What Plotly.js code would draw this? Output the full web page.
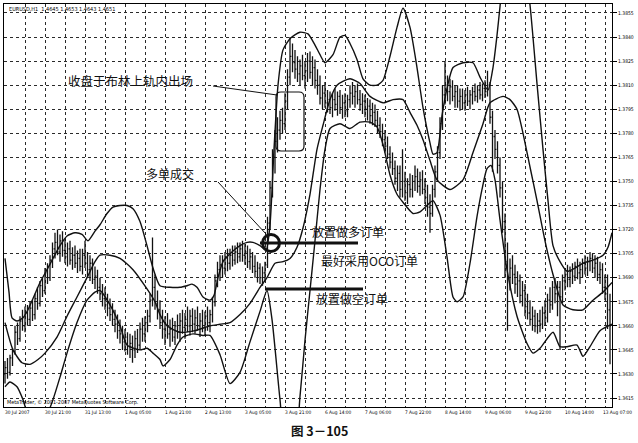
<!DOCTYPE html>
<html><head><meta charset="utf-8">
<script src="https://cdn.plot.ly/plotly-3.0.1.min.js"></script>
<style>html,body{margin:0;padding:0;background:#fff}#chart{width:638px;height:443px}</style>
</head><body><div id="chart"></div>
<script>
// ---- hourly EURUSD bars (open / high / low / close) ----
const opens = [
1.3630,1.3634,1.3631,1.3640,1.3644,1.3656,1.3652,1.3663,1.3660,1.3668,
1.3664,1.3671,1.3667,1.3677,1.3674,1.3685,1.3682,1.3693,1.3690,1.3701,
1.3708,1.3712,1.3706,1.3713,1.3707,1.3703,1.3708,1.3701,1.3704,1.3699,
1.3702,1.3697,1.3704,1.3699,1.3695,1.3699,1.3689,1.3691,1.3684,1.3680,
1.3677,1.3673,1.3671,1.3667,1.3664,1.3661,1.3657,1.3655,1.3650,1.3653,
1.3647,1.3649,1.3645,1.3652,1.3648,1.3658,1.3655,1.3662,1.3666,1.3676,
1.3684,1.3674,1.3670,1.3662,1.3658,1.3661,1.3655,1.3658,1.3653,1.3660,
1.3656,1.3663,1.3659,1.3664,1.3660,1.3666,1.3661,1.3665,1.3660,1.3663,
1.3659,1.3666,1.3662,1.3667,1.3675,1.3688,1.3695,1.3698,1.3696,1.3702,
1.3699,1.3704,1.3701,1.3706,1.3703,1.3708,1.3704,1.3706,1.3700,1.3703,
1.3697,1.3694,1.3696,1.3690,1.3693,1.3698,1.3724,1.3746,1.3765,1.3775,
1.3782,1.3788,1.3786,1.3800,1.3815,1.3828,1.3824,1.3820,1.3817,1.3822,
1.3816,1.3819,1.3825,1.3818,1.3821,1.3813,1.3810,1.3802,1.3805,1.3799,
1.3801,1.3796,1.3801,1.3798,1.3803,1.3796,1.3799,1.3794,1.3801,1.3805,
1.3803,1.3806,1.3801,1.3798,1.3800,1.3795,1.3797,1.3791,1.3793,1.3788,
1.3785,1.3781,1.3776,1.3772,1.3767,1.3762,1.3758,1.3752,1.3755,1.3745,
1.3750,1.3743,1.3748,1.3745,1.3750,1.3753,1.3747,1.3751,1.3745,1.3740,
1.3734,1.3730,1.3745,1.3756,1.3768,1.3786,1.3804,1.3810,1.3806,1.3809,
1.3803,1.3806,1.3800,1.3803,1.3799,1.3804,1.3800,1.3804,1.3806,1.3803,
1.3807,1.3804,1.3808,1.3806,1.3810,1.3790,1.3778,1.3770,1.3760,1.3746,
1.3725,1.3700,1.3690,1.3696,1.3692,1.3686,1.3688,1.3679,1.3682,1.3672,
1.3668,1.3664,1.3666,1.3660,1.3663,1.3661,1.3668,1.3665,1.3676,1.3673,
1.3684,1.3680,1.3684,1.3678,1.3688,1.3692,1.3689,1.3694,1.3691,1.3697,
1.3693,1.3695,1.3699,1.3696,1.3700,1.3702,1.3696,1.3699,1.3692,1.3695,
1.3684,1.3680,1.3670];
const highs = [
1.3638,1.3640,1.3642,1.3646,1.3660,1.3662,1.3666,1.3670,1.3672,1.3673,
1.3675,1.3676,1.3680,1.3684,1.3688,1.3690,1.3696,1.3699,1.3704,1.3712,
1.3718,1.3720,1.3717,1.3719,1.3714,1.3712,1.3713,1.3709,1.3710,1.3707,
1.3708,1.3708,1.3713,1.3706,1.3704,1.3702,1.3697,1.3695,1.3690,1.3686,
1.3684,1.3680,1.3677,1.3674,1.3670,1.3667,1.3664,1.3660,1.3658,1.3656,
1.3655,1.3654,1.3657,1.3658,1.3662,1.3665,1.3666,1.3670,1.3680,1.3715,
1.3692,1.3682,1.3676,1.3670,1.3666,1.3668,1.3664,1.3665,1.3663,1.3667,
1.3668,1.3670,1.3668,1.3672,1.3670,1.3671,1.3670,1.3672,1.3668,1.3670,
1.3669,1.3672,1.3670,1.3678,1.3692,1.3700,1.3704,1.3704,1.3706,1.3708,
1.3708,1.3710,1.3710,1.3712,1.3712,1.3713,1.3711,1.3710,1.3708,1.3706,
1.3704,1.3700,1.3699,1.3697,1.3700,1.3728,1.3750,1.3770,1.3782,1.3790,
1.3794,1.3796,1.3805,1.3820,1.3840,1.3836,1.3832,1.3828,1.3826,1.3829,
1.3825,1.3830,1.3831,1.3828,1.3826,1.3820,1.3816,1.3810,1.3812,1.3807,
1.3806,1.3805,1.3808,1.3806,1.3807,1.3804,1.3805,1.3804,1.3810,1.3812,
1.3810,1.3811,1.3807,1.3805,1.3804,1.3802,1.3801,1.3799,1.3798,1.3794,
1.3790,1.3786,1.3782,1.3778,1.3772,1.3768,1.3763,1.3760,1.3760,1.3770,
1.3756,1.3752,1.3755,1.3754,1.3760,1.3758,1.3756,1.3757,1.3752,1.3748,
1.3742,1.3748,1.3760,1.3772,1.3790,1.3810,1.3825,1.3816,1.3814,1.3813,
1.3810,1.3810,1.3808,1.3808,1.3807,1.3809,1.3807,1.3809,1.3811,1.3810,
1.3812,1.3811,1.3813,1.3819,1.3812,1.3794,1.3782,1.3775,1.3765,1.3750,
1.3730,1.3712,1.3702,1.3704,1.3698,1.3694,1.3692,1.3688,1.3686,1.3680,
1.3676,1.3672,1.3670,1.3668,1.3670,1.3672,1.3676,1.3680,1.3684,1.3688,
1.3690,1.3688,1.3688,1.3692,1.3696,1.3698,1.3697,1.3699,1.3700,1.3702,
1.3700,1.3702,1.3704,1.3703,1.3706,1.3705,1.3704,1.3703,1.3700,1.3699,
1.3692,1.3692,1.3680];
const lows = [
1.3624,1.3627,1.3629,1.3635,1.3642,1.3648,1.3650,1.3657,1.3656,1.3660,
1.3660,1.3663,1.3664,1.3670,1.3672,1.3678,1.3680,1.3686,1.3688,1.3696,
1.3702,1.3704,1.3700,1.3703,1.3699,1.3697,1.3698,1.3695,1.3696,1.3693,
1.3694,1.3692,1.3696,1.3690,1.3688,1.3686,1.3683,1.3680,1.3676,1.3672,
1.3670,1.3666,1.3663,1.3660,1.3656,1.3652,1.3649,1.3645,1.3644,1.3642,
1.3640,1.3637,1.3640,1.3643,1.3645,1.3650,1.3650,1.3656,1.3662,1.3672,
1.3670,1.3664,1.3658,1.3652,1.3648,1.3652,1.3647,1.3650,1.3648,1.3652,
1.3650,1.3655,1.3652,1.3656,1.3654,1.3656,1.3655,1.3657,1.3653,1.3656,
1.3654,1.3657,1.3656,1.3662,1.3672,1.3684,1.3688,1.3690,1.3692,1.3694,
1.3695,1.3697,1.3698,1.3699,1.3700,1.3700,1.3698,1.3696,1.3695,1.3693,
1.3690,1.3687,1.3686,1.3685,1.3688,1.3696,1.3720,1.3740,1.3755,1.3768,
1.3776,1.3780,1.3782,1.3795,1.3810,1.3818,1.3814,1.3812,1.3810,1.3813,
1.3808,1.3812,1.3814,1.3810,1.3808,1.3804,1.3798,1.3795,1.3796,1.3793,
1.3792,1.3790,1.3794,1.3791,1.3792,1.3789,1.3790,1.3790,1.3796,1.3798,
1.3796,1.3798,1.3794,1.3792,1.3790,1.3788,1.3786,1.3785,1.3784,1.3780,
1.3777,1.3772,1.3768,1.3764,1.3758,1.3754,1.3748,1.3744,1.3740,1.3740,
1.3738,1.3736,1.3740,1.3740,1.3744,1.3743,1.3741,1.3742,1.3736,1.3728,
1.3718,1.3728,1.3740,1.3750,1.3764,1.3782,1.3798,1.3800,1.3798,1.3800,
1.3796,1.3796,1.3794,1.3795,1.3794,1.3797,1.3795,1.3798,1.3800,1.3799,
1.3801,1.3800,1.3802,1.3803,1.3786,1.3756,1.3764,1.3755,1.3740,1.3718,
1.3690,1.3657,1.3682,1.3686,1.3680,1.3678,1.3674,1.3672,1.3666,1.3664,
1.3660,1.3657,1.3656,1.3655,1.3656,1.3658,1.3660,1.3662,1.3668,1.3670,
1.3674,1.3666,1.3645,1.3674,1.3682,1.3684,1.3684,1.3686,1.3688,1.3689,
1.3686,1.3690,1.3692,1.3691,1.3694,1.3693,1.3690,1.3688,1.3686,1.3680,
1.3676,1.3658,1.3636];
const closes = [
1.3634,1.3631,1.3640,1.3644,1.3656,1.3652,1.3663,1.3660,1.3668,1.3664,
1.3671,1.3667,1.3677,1.3674,1.3685,1.3682,1.3693,1.3690,1.3701,1.3708,
1.3712,1.3706,1.3713,1.3707,1.3703,1.3708,1.3701,1.3704,1.3699,1.3702,
1.3697,1.3704,1.3699,1.3695,1.3699,1.3689,1.3691,1.3684,1.3680,1.3677,
1.3673,1.3671,1.3667,1.3664,1.3661,1.3657,1.3655,1.3650,1.3653,1.3647,
1.3649,1.3645,1.3652,1.3648,1.3658,1.3655,1.3662,1.3666,1.3676,1.3684,
1.3674,1.3670,1.3662,1.3658,1.3661,1.3655,1.3658,1.3653,1.3660,1.3656,
1.3663,1.3659,1.3664,1.3660,1.3666,1.3661,1.3665,1.3660,1.3663,1.3659,
1.3666,1.3662,1.3667,1.3675,1.3688,1.3695,1.3698,1.3696,1.3702,1.3699,
1.3704,1.3701,1.3706,1.3703,1.3708,1.3704,1.3706,1.3700,1.3703,1.3697,
1.3694,1.3696,1.3690,1.3693,1.3698,1.3724,1.3746,1.3765,1.3775,1.3782,
1.3788,1.3786,1.3800,1.3815,1.3828,1.3824,1.3820,1.3817,1.3822,1.3816,
1.3819,1.3825,1.3818,1.3821,1.3813,1.3810,1.3802,1.3805,1.3799,1.3801,
1.3796,1.3801,1.3798,1.3803,1.3796,1.3799,1.3794,1.3801,1.3805,1.3803,
1.3806,1.3801,1.3798,1.3800,1.3795,1.3797,1.3791,1.3793,1.3788,1.3785,
1.3781,1.3776,1.3772,1.3767,1.3762,1.3758,1.3752,1.3755,1.3745,1.3750,
1.3743,1.3748,1.3745,1.3750,1.3753,1.3747,1.3751,1.3745,1.3740,1.3734,
1.3730,1.3745,1.3756,1.3768,1.3786,1.3804,1.3810,1.3806,1.3809,1.3803,
1.3806,1.3800,1.3803,1.3799,1.3804,1.3800,1.3804,1.3806,1.3803,1.3807,
1.3804,1.3808,1.3806,1.3810,1.3790,1.3778,1.3770,1.3760,1.3746,1.3725,
1.3700,1.3690,1.3696,1.3692,1.3686,1.3688,1.3679,1.3682,1.3672,1.3668,
1.3664,1.3666,1.3660,1.3663,1.3661,1.3668,1.3665,1.3676,1.3673,1.3684,
1.3680,1.3684,1.3678,1.3688,1.3692,1.3689,1.3694,1.3691,1.3697,1.3693,
1.3695,1.3699,1.3696,1.3700,1.3702,1.3696,1.3699,1.3692,1.3695,1.3684,
1.3680,1.3670,1.3660];

// ---- Bollinger bands (bar position, price) ----
const upperBar = [0,1.6,2.8,4.8,7.2,9.2,11.2,14,16.8,19.2,22,24.8,28,30.8,33.2,36,38,40.8,43.2,46,48.8,51.2,54,56.8,59.2,62,66,70,72.8,74.8,76.8,79.2,82,83.6,85.2,87.2,90,94,96.8,99.2,102,104.4,106,107.6,109.2,111.2,114,118,121.2,124,126,128,131.2,134,136,138,140.8,143.2,146,148.8,151.2,154,156.8,159.2,162,164.8,167.2,170,171.2,172.8,174.8,176.8,179.2,183.2,187.2,190,193.2,195.2,196.8,198,200,204,208,210,212.8,215.2,217.2,219.2,222,224.8,228,231.2,235.2,239.2,241.2,242.8];
const upperVal = [1.3702,1.3681,1.3665,1.3663,1.3665,1.3670,1.3677,1.3687,1.3695,1.3702,1.3710,1.3716,1.3718,1.3717,1.3713,1.3719,1.3723,1.3730,1.3734,1.3735,1.3735,1.3733,1.3725,1.3710,1.3696,1.3685,1.3684,1.3684,1.3685,1.3686,1.3684,1.3678,1.3676,1.3679,1.3690,1.3700,1.3705,1.3710,1.3712,1.3712,1.3710,1.3707,1.3723,1.3770,1.3810,1.3832,1.3839,1.3843,1.3842,1.3835,1.3829,1.3824,1.3829,1.3840,1.3841,1.3836,1.3826,1.3814,1.3810,1.3810,1.3813,1.3828,1.3846,1.3858,1.3846,1.3821,1.3796,1.3774,1.3767,1.3768,1.3791,1.3808,1.3821,1.3824,1.3824,1.3815,1.3807,1.3821,1.3841,1.3859,1.3888,1.3900,1.3882,1.3860,1.3811,1.3770,1.3738,1.3710,1.3700,1.3694,1.3696,1.3699,1.3701,1.3704,1.3709,1.3718];
const middleBar = [0,3.2,6.8,10,13.2,16,20.8,24.8,28.8,32.8,36,38,42,46,51.2,56.8,60,62,64.8,70,76,82,86,90,94,98,102,104.8,108,111.2,114,116.8,119.2,122,124.8,127.2,130,132.8,138,142,146,151.2,155.2,159.2,162,164.8,167.2,170,172.8,178,183.2,187.2,191.2,194,199.2,202,204.8,207.2,210,212.8,216,219.2,223.2,227.2,231.2,235.2,239.2,242.8];
const middleVal = [1.3662,1.3645,1.3637,1.3636,1.3639,1.3643,1.3653,1.3666,1.3678,1.3690,1.3700,1.3704,1.3704,1.3702,1.3695,1.3683,1.3675,1.3667,1.3660,1.3656,1.3657,1.3660,1.3661,1.3662,1.3667,1.3674,1.3684,1.3690,1.3699,1.3700,1.3702,1.3709,1.3721,1.3742,1.3770,1.3785,1.3801,1.3810,1.3814,1.3811,1.3803,1.3799,1.3801,1.3801,1.3793,1.3785,1.3776,1.3763,1.3751,1.3745,1.3751,1.3768,1.3786,1.3799,1.3803,1.3801,1.3795,1.3780,1.3759,1.3738,1.3713,1.3692,1.3673,1.3670,1.3670,1.3676,1.3681,1.3687];
const lowerBar = [0,2,4.8,7.2,10,14,17.2,19.2,22,24.8,28.8,32.8,36,38,42,46,48.8,54,56.8,59.2,62,63.2,66,68.8,71.2,75.2,79.2,82,86,90,94,98,102,104.8,106.8,110,112,116,118,120,122,124,126,128,130,134,138,142,146,148.8,151.2,154,156.8,159.2,163.2,166,168.8,171.2,174,176.8,179.2,180.8,183.2,186,188.8,190.8,192.8,194.4,196,198,200.8,204.8,208.8,211.2,214,219.2,222,224.8,228.8,231.2,234,238,242.8];
const lowerVal = [1.3622,1.3625,1.3622,1.3614,1.3601,1.3598,1.3606,1.3614,1.3628,1.3643,1.3662,1.3676,1.3681,1.3682,1.3673,1.3660,1.3648,1.3645,1.3646,1.3643,1.3639,1.3635,1.3639,1.3648,1.3653,1.3655,1.3654,1.3654,1.3642,1.3624,1.3631,1.3650,1.3669,1.3682,1.3664,1.3614,1.3589,1.3589,1.3616,1.3651,1.3682,1.3713,1.3745,1.3770,1.3783,1.3786,1.3783,1.3787,1.3787,1.3784,1.3773,1.3754,1.3742,1.3737,1.3730,1.3731,1.3735,1.3738,1.3729,1.3703,1.3678,1.3675,1.3678,1.3699,1.3728,1.3745,1.3758,1.3760,1.3751,1.3726,1.3695,1.3666,1.3649,1.3643,1.3646,1.3656,1.3647,1.3647,1.3648,1.3641,1.3647,1.3657,1.3661];

// ---- axis labels ----
const timeLabels = ['30 Jul 2007','30 Jul 21:00','31 Jul 13:00','1 Aug 05:00','1 Aug 21:00','2 Aug 13:00','3 Aug 05:00','3 Aug 21:00','6 Aug 14:00','7 Aug 06:00','7 Aug 22:00','8 Aug 14:00','9 Aug 06:00','9 Aug 22:00','10 Aug 14:00','13 Aug 07:00'];
const timeLabelBars = [0,16,32,48,64,80,96,112,128,144,160,176,192,208,224,240];
const gridBars = [0,8,16,24,32,40,48,56,64,72,80,88,96,104,112,120,128,136,144,152,160,168,176,184,192,200,208,216,224,232,240];
const priceTicks = [1.3615,1.3630,1.3645,1.3660,1.3675,1.3690,1.3705,1.3720,1.3735,1.3750,1.3765,1.3780,1.3795,1.3810,1.3825,1.3840,1.3855];

// ---- layout helpers (pixel -> paper) ----
const W=638,H=443,ML=4,MR=26,MT=4,MB=36;
const PW=W-ML-MR, PH=H-MT-MB;
const X = p => (p-ML)/PW, Y = p => 1-(p-MT)/PH;

const barIdx = closes.map((_,i)=>i);
const ink = '#111';
const bandLine = {color:ink,width:1.4,shape:'spline',smoothing:0.6};
const traces = [
  {type:'ohlc', x:barIdx, open:opens, high:highs, low:lows, close:closes,
   increasing:{line:{color:ink,width:1.3}}, decreasing:{line:{color:ink,width:1.3}},
   tickwidth:0.4, hoverinfo:'skip', showlegend:false},
  {type:'scatter', mode:'lines', x:upperBar, y:upperVal, line:bandLine, hoverinfo:'skip', showlegend:false},
  {type:'scatter', mode:'lines', x:middleBar, y:middleVal, line:bandLine, hoverinfo:'skip', showlegend:false},
  {type:'scatter', mode:'lines', x:lowerBar, y:lowerVal, line:bandLine, hoverinfo:'skip', showlegend:false}
];

const smallFont = {family:'Liberation Sans Narrow, Arial Narrow, DejaVu Sans Condensed, Liberation Sans, Arial, sans-serif', size:5, color:'#000'};
const cjk = 'Noto Sans CJK SC, Noto Sans, sans-serif';

const annotations = [];
timeLabels.forEach((t,k)=>{
  const last = k===timeLabels.length-1;
  annotations.push(last
    ? {xref:'paper', yref:'paper', x:X(634), y:0, xanchor:'right', yanchor:'top', yshift:-1, text:t, showarrow:false, font:Object.assign({},smallFont,{size:4.8})}
    : {xref:'x', yref:'paper', x:timeLabelBars[k], y:0, xanchor:'left', yanchor:'top', xshift:-2, yshift:-1, text:t, showarrow:false, font:Object.assign({},smallFont,{size:4.8})});
});
const txt = (s, cx, cy, size, extra) => Object.assign({xref:'paper', yref:'paper', x:X(cx), y:Y(cy), xanchor:'center', yanchor:'middle',
  text:s, showarrow:false, font:{family:cjk, size:size, color:'#111'}}, extra||{});
annotations.push(txt('收盘于布林上轨内出场',130,80,12.5));
annotations.push(txt('多单成交',170,173,12));
annotations.push(txt('放置做多订单',348,231,12));
annotations.push(txt('最好采用OCO订单',369,260,12));
annotations.push(txt('放置做空订单',352,298,12));
annotations.push(txt('<b>图 3－105</b>',319,431,12.5));
annotations.push({xref:'paper', yref:'paper', x:X(7), y:Y(9.5), xanchor:'left', yanchor:'middle', showarrow:false,
  text:'EURUSD,H1  1.4645 1.4653 1.4643 1.4651', font:Object.assign({},smallFont,{size:5.5})});
annotations.push({xref:'paper', yref:'paper', x:X(5), y:Y(402), xanchor:'left', yanchor:'middle', showarrow:false,
  text:'MetaTrader, © 2001-2007 MetaQuotes Software Corp.', font:Object.assign({},smallFont,{size:5.4})});

const rr = (x0,y0,x1,y1,r) => `M ${X(x0+r)},${Y(y0)} L ${X(x1-r)},${Y(y0)} Q ${X(x1)},${Y(y0)} ${X(x1)},${Y(y0+r)} L ${X(x1)},${Y(y1-r)} Q ${X(x1)},${Y(y1)} ${X(x1-r)},${Y(y1)} L ${X(x0+r)},${Y(y1)} Q ${X(x0)},${Y(y1)} ${X(x0)},${Y(y1-r)} L ${X(x0)},${Y(y0+r)} Q ${X(x0)},${Y(y0)} ${X(x0+r)},${Y(y0)} Z`;
const seg = (x0,y0,x1,y1,w) => ({type:'line', xref:'paper', yref:'paper', x0:X(x0), y0:Y(y0), x1:X(x1), y1:Y(y1), line:{color:'#111', width:w}});
const shapes = [
  seg(213,86,277,95,1),
  {type:'path', xref:'paper', yref:'paper', path:rr(276,92,304,151,5), line:{color:'#111', width:1.2}},
  seg(218,182,266,234,1),
  {type:'circle', xref:'paper', yref:'paper', x0:X(262.5), x1:X(279.5), y0:Y(251.5), y1:Y(234.5), line:{color:'#111', width:3}},
  seg(260,243,358,243,3),
  seg(265,289,363,289,3)
];

const gridStyle = {showgrid:true, gridcolor:'#2a2a2a', gridwidth:1, griddash:'dot'};
const layout = {
  width:W, height:H, margin:{l:ML, r:MR, t:MT, b:MB, pad:0},
  paper_bgcolor:'#fff', plot_bgcolor:'#fff', showlegend:false, hovermode:false,
  xaxis: Object.assign({type:'linear', range:[-0.4,242.8], tickmode:'array', tickvals:gridBars, showticklabels:false, ticks:'',
    showline:true, mirror:true, linecolor:'#000', linewidth:1, zeroline:false, rangeslider:{visible:false}, fixedrange:true}, gridStyle),
  yaxis: Object.assign({range:[1.36094,1.38606], side:'right', tickmode:'array', tickvals:priceTicks, ticktext:priceTicks.map(v=>v.toFixed(4)),
    ticks:'outside', ticklen:4, tickcolor:'#000', tickwidth:1, tickfont:smallFont,
    showline:true, mirror:true, linecolor:'#000', linewidth:1, zeroline:false, fixedrange:true}, gridStyle),
  annotations: annotations, shapes: shapes
};
Plotly.newPlot('chart', traces, layout, {staticPlot:true, displayModeBar:false});
</script></body></html>
